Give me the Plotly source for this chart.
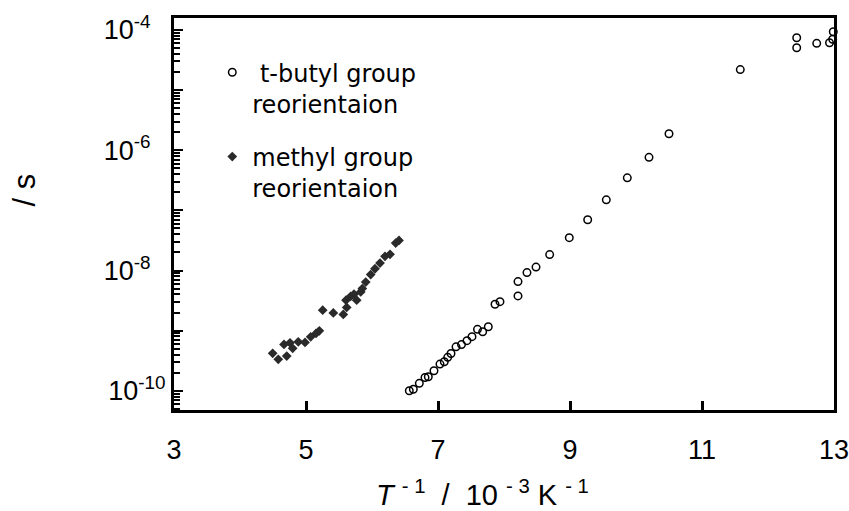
import plotly.graph_objects as go

# t-butyl group reorientation (open circles)
tbutyl_x = [6.565, 6.626, 6.717, 6.803, 6.853, 6.939, 7.030, 7.095, 7.147, 7.197,
            7.273, 7.356, 7.439, 7.515, 7.598, 7.677, 7.762, 7.864, 7.939, 8.212,
            8.212, 8.348, 8.485, 8.692, 8.989, 9.268, 9.550, 9.868, 10.197, 10.500,
            11.580, 12.435, 12.435, 12.738, 12.932, 12.980, 12.989]
tbutyl_y = [1.00e-10, 1.06e-10, 1.33e-10, 1.66e-10, 1.71e-10, 2.15e-10, 2.78e-10, 3.04e-10, 3.60e-10, 4.16e-10,
            5.38e-10, 5.86e-10, 6.82e-10, 7.94e-10, 1.05e-9, 9.55e-10, 1.16e-9, 2.75e-9, 3.03e-9, 3.78e-9,
            6.55e-9, 9.23e-9, 1.14e-8, 1.84e-8, 3.52e-8, 6.98e-8, 1.50e-7, 3.48e-7, 7.62e-7, 1.88e-6,
            2.20e-5, 7.45e-5, 5.08e-5, 6.01e-5, 6.15e-5, 7.01e-5, 9.38e-5]

# methyl group reorientation (filled diamonds)
methyl_x = [4.495, 4.580, 4.708, 4.667, 4.758, 4.798, 4.883, 4.985, 5.071, 5.152,
            5.202, 5.253, 5.414, 5.565, 5.617, 5.606, 5.677, 5.727, 5.768, 5.829,
            5.853, 5.905, 5.980, 6.045, 6.121, 6.197, 6.273, 6.359, 6.409]
methyl_y = [4.19e-10, 3.33e-10, 3.78e-10, 5.90e-10, 6.28e-10, 5.07e-10, 6.52e-10, 6.37e-10, 7.89e-10, 8.99e-10,
            9.93e-10, 2.19e-9, 1.97e-9, 1.86e-9, 2.43e-9, 3.21e-9, 3.73e-9, 4.03e-9, 3.21e-9, 4.40e-9,
            5.01e-9, 6.44e-9, 8.55e-9, 1.07e-8, 1.33e-8, 1.72e-8, 1.86e-8, 2.86e-8, 3.17e-8]

x_ticks = [3, 5, 7, 9, 11, 13]
y_tickvals = [1e-10, 1e-9, 1e-8, 1e-7, 1e-6, 1e-5, 1e-4]
y_ticktext = ["10<sup>-10</sup>", "", "10<sup>-8</sup>\u2007", "", "10<sup>-6</sup>\u2007", "", "10<sup>-4</sup>\u2007"]
y_minor = [m * 10.0 ** k for k in range(-11, -3) for m in range(2, 10)]

NB = "\u00a0"
x_title = (f"<i>T</i>{NB}<sup>-{NB}1</sup>{NB}{NB}/{NB}{NB}10{NB}<sup>-{NB}3</sup>"
           f"{NB}K{NB}<sup>-{NB}1</sup>")

legend_font = dict(family="DejaVu Sans", size=24, color="black")
axis_font = dict(family="Liberation Sans, Arial", size=27, color="black")

fig = go.Figure()
fig.add_trace(go.Scatter(
    x=tbutyl_x, y=tbutyl_y, mode="markers",
    name="\u00a0t-butyl group<br>reorientaion",
    marker=dict(symbol="circle-open", size=7.5, color="black", line=dict(width=1.5, color="black")),
    legend="legend", cliponaxis=False,
))
fig.add_trace(go.Scatter(
    x=methyl_x, y=methyl_y, mode="markers",
    name="methyl group<br>reorientaion",
    marker=dict(symbol="diamond", size=7.5, color="#2a2a2a"),
    legend="legend2",
))

fig.update_layout(
    width=849, height=511,
    margin=dict(l=174, r=15, t=18, b=101),
    paper_bgcolor="white", plot_bgcolor="white",
    showlegend=True,
    legend=dict(x=0.058, y=0.918, xanchor="left", yanchor="top", font=legend_font,
                bgcolor="rgba(0,0,0,0)", valign="top"),
    legend2=dict(x=0.058, y=0.703, xanchor="left", yanchor="top", font=legend_font,
                 bgcolor="rgba(0,0,0,0)", valign="top"),
    xaxis=dict(
        range=[3, 13], tickmode="array", tickvals=x_ticks,
        ticks="inside", ticklen=9, tickwidth=3, tickcolor="black",
        showline=True, linewidth=3, linecolor="black", mirror=True,
        showgrid=False, zeroline=False, tickfont=axis_font, ticklabelstandoff=14,
        ticklabeloverflow="allow", automargin=False,
    ),
    yaxis=dict(
        type="log", range=[-10.32, -3.80], tickmode="array",
        tickvals=y_tickvals, ticktext=y_ticktext,
        ticks="inside", ticklen=9, tickwidth=2, tickcolor="black",
        minor=dict(tickmode="array", tickvals=y_minor, ticks="inside", ticklen=6, tickwidth=2, tickcolor="black"),
        showline=True, linewidth=3, linecolor="black", mirror=True,
        showgrid=False, zeroline=False, tickfont=axis_font, automargin=False,
    ),
    annotations=[
        dict(text=x_title,
             xref="paper", yref="paper", x=0.467, y=-0.212, xanchor="center", yanchor="middle",
             showarrow=False, font=dict(family="Liberation Sans, Arial", size=29, color="black")),
        dict(text="/ s", xref="paper", yref="paper", x=-0.226, y=0.562, xanchor="center", yanchor="middle",
             textangle=-90, showarrow=False, font=dict(family="Liberation Sans, Arial", size=31, color="black")),
    ],
)

# remove the default 8 px page margin so the figure sits at the window's corner
fig.write_html("out.html", config={"displayModeBar": False},
               post_script="document.body.style.margin='0';")
